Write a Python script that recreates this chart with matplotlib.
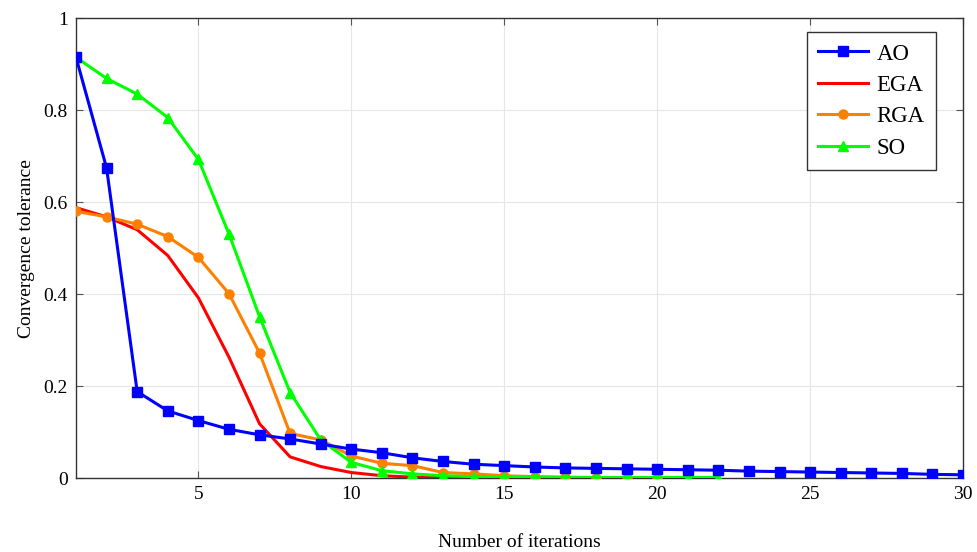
import matplotlib.pyplot as plt
from matplotlib.ticker import FuncFormatter

plt.rcParams['font.family'] = ['Liberation Serif', 'DejaVu Serif']

iters_ao = list(range(1, 31))
ao = [0.915, 0.674, 0.188, 0.146, 0.125, 0.106, 0.094, 0.085, 0.074, 0.063,
      0.055, 0.044, 0.036, 0.030, 0.027, 0.024, 0.022, 0.021, 0.020, 0.019,
      0.018, 0.017, 0.015, 0.014, 0.013, 0.012, 0.011, 0.010, 0.008, 0.007]

iters_ega = list(range(1, 16))
ega = [0.588, 0.568, 0.540, 0.484, 0.392, 0.263, 0.118, 0.046, 0.025, 0.012,
       0.005, 0.002, 0.001, 0.0005, 0.0002]

iters_rga = list(range(1, 21))
rga = [0.580, 0.568, 0.552, 0.525, 0.480, 0.401, 0.272, 0.097, 0.083, 0.048,
       0.032, 0.027, 0.012, 0.009, 0.005, 0.003, 0.002, 0.001, 0.001, 0.001]

iters_so = list(range(1, 23))
so = [0.915, 0.869, 0.835, 0.784, 0.693, 0.531, 0.351, 0.186, 0.083, 0.034,
      0.016, 0.009, 0.005, 0.003, 0.002, 0.002, 0.001, 0.001, 0.001, 0.001,
      0.001, 0.001]

fig = plt.figure(figsize=(9.77, 5.52), dpi=100)
ax = fig.add_axes([0.0778, 0.134, 0.9079, 0.833])

ax.plot(iters_ao, ao, color=(0, 0, 1), lw=2.2, marker='s', ms=6.5, label='AO', zorder=5)
ax.plot(iters_ega, ega, color=(1, 0, 0), lw=2.2, label='EGA', zorder=2)
ax.plot(iters_rga, rga, color=(1, 0.5, 0), lw=2.2, marker='o', ms=6.5, label='RGA', zorder=3)
ax.plot(iters_so, so, color=(0, 1, 0), lw=2.2, marker='^', ms=6.5, label='SO', zorder=4)

ax.set_xlim(1, 30)
ax.set_ylim(0, 1)
ax.set_xticks([5, 10, 15, 20, 25, 30])
ax.set_yticks([0, 0.2, 0.4, 0.6, 0.8, 1])
ax.yaxis.set_major_formatter(FuncFormatter(lambda v, _: f'{v:g}'))
ax.grid(True, color='#e6e6e6', lw=0.8)
ax.set_axisbelow(True)
ax.tick_params(direction='in', top=True, right=True, labelsize=14, length=5,
               color='#555555', pad=6)
for s in ax.spines.values():
    s.set_color('#333333')
    s.set_linewidth(1.0)

ax.set_xlabel('Number of iterations', fontsize=14, labelpad=22)
ax.set_ylabel('Convergence tolerance', fontsize=14, labelpad=6)

leg = ax.legend(loc='upper right', bbox_to_anchor=(936 / 977, 1 - 32 / 552),
                bbox_transform=fig.transFigure, borderaxespad=0,
                fontsize=16.5, fancybox=False, edgecolor='#333333', framealpha=1,
                handlelength=2.2, handletextpad=0.35, labelspacing=0.45,
                borderpad=0.5)
leg.get_frame().set_linewidth(1.0)

fig.savefig('out.png', dpi=100)
